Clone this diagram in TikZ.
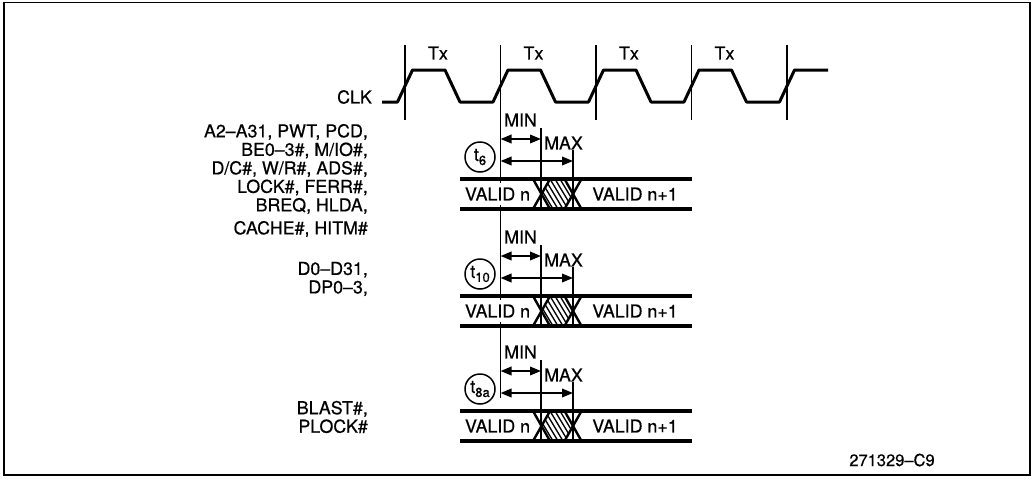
\documentclass[tikz,border=0pt]{standalone}
\usepackage{fontspec}
\setmainfont{TeX Gyre Heros}[FakeBold=0.6]
\usetikzlibrary{arrows.meta}
\begin{document}
\begin{tikzpicture}[x=1pt,y=-1pt,
  lbl/.style={font=\fontsize{17.8}{18.5}\selectfont, inner sep=0pt},
  clkline/.style={line width=3pt, line join=round},
  tick/.style={line width=1.4pt},
  rowline/.style={line width=3.4pt},
  xline/.style={line width=2.4pt},
  hatch/.style={line width=1.3pt},
  dim/.style={line width=2pt, {Triangle[length=11pt,width=8.5pt]}-{Triangle[length=11pt,width=8.5pt]}},
  circ/.style={circle, draw, line width=1.5pt, minimum size=30pt, inner sep=0pt, font=\fontsize{18}{18}\selectfont},
  valbox/.style={lbl, fill=white, inner xsep=1pt, inner ysep=5pt}
]
\useasboundingbox (0,0) rectangle (1032,482);
\draw[line width=1.8pt] (4,2.5) rectangle (1030,475);

% clock
\draw[clkline] (382,102) -- (397.5,102)
  -- (412.5,70) -- (445,70) -- (460,102) -- (493,102)
  -- (508,70) -- (540.5,70) -- (555.5,102) -- (588.5,102)
  -- (603.5,70) -- (636,70) -- (651,102) -- (684,102)
  -- (699,70) -- (731.5,70) -- (746.5,102) -- (779.5,102)
  -- (794.5,70) -- (828,70);
\node[lbl, anchor=east] (clk) at (372,97) {CLK};
\foreach \X/\i in {405/1,596/3,691.5/4,787/5}{
  \coordinate (t\i a) at (\X,45);
  \coordinate (t\i b) at (\X,120);
  \draw[tick] (t\i a) -- (t\i b);
}
\foreach \X/\i in {405/1,500.5/2,596/3,691.5/4}{
  \node[lbl] (tx\i) at (\X+33,53) {Tx};
}
\coordinate (mainTop) at (500.5,45);
\coordinate (mainBot) at (500.5,398);
\draw[tick] (mainTop) -- (mainBot);

% rows
\foreach \T/\s/\n in {179/6/a,296/10/b,411/8a/c}{
  \pgfmathsetmacro\B{\T+30}
  \pgfmathsetmacro\M{\T+15}
  \pgfmathsetmacro\Amin{\T-40}
  \pgfmathsetmacro\Amax{\T-18}
  \node[valbox] (vn\n) at (497.5,\M) {VALID n};
  \node[lbl] (vm\n) at (635,\M) {VALID n+1};
  % row lines
  \coordinate (rtl\n) at (460,\T); \coordinate (rtr\n) at (692,\T);
  \coordinate (rbl\n) at (460,\B); \coordinate (rbr\n) at (692,\B);
  \draw[rowline] (rtl\n) -- (rtr\n);
  \draw[rowline] (rbl\n) -- (rbr\n);
  % hatch
  \begin{scope}
    \clip (541.5,\M) -- (550,\T) -- (564.5,\T) -- (573,\M) -- (564.5,\B) -- (550,\B) -- cycle;
    \foreach \a in {520,525,...,580}{
      \draw[hatch] (\a,\T) -- (\a+18,\B);
    }
  \end{scope}
  % crossings
  \draw[xline] (533,\T) -- (550,\B);
  \draw[xline] (533,\B) -- (550,\T);
  \draw[xline] (564.5,\T) -- (581.5,\B);
  \draw[xline] (564.5,\B) -- (581.5,\T);
  % ticks
  \coordinate (mint\n) at (541,\Amin-11); \coordinate (minb\n) at (541,\B);
  \coordinate (maxt\n) at (573,\Amax-11); \coordinate (maxb\n) at (573,\B);
  \draw[tick] (mint\n) -- (minb\n);
  \draw[tick] (maxt\n) -- (maxb\n);
  % dims
  \coordinate (mina\n) at (500.5,\Amin); \coordinate (minz\n) at (541,\Amin);
  \coordinate (maxa\n) at (500.5,\Amax); \coordinate (maxz\n) at (573,\Amax);
  \draw[dim] (mina\n) -- (minz\n);
  \draw[dim] (maxa\n) -- (maxz\n);
  \node[lbl, anchor=west] (minl\n) at (504,\Amin-19) {MIN};
  \node[lbl, anchor=west] (maxl\n) at (544,\Amax-18) {MAX};
  \node[circ] (c\n) at (480,\Amax-4) {t\raisebox{-4pt}{\fontsize{13}{13}\selectfont\s}};
}

% left labels
\node[lbl, anchor=east, align=right] (g1) at (368,169) {A2--A31, PWT, PCD,\\BE0--3\#, M/IO\#,\\D/C\#, W/R\#, ADS\#,\\LOCK\#, FERR\#,\\BREQ, HLDA,};
\node[lbl, anchor=east] (g2) at (368,229) {CACHE\#, HITM\#};
\node[lbl, anchor=east, align=right] (g3) at (368,279) {D0--D31,\\DP0--3,};
\node[lbl, anchor=east, align=right] (g4) at (368,417) {BLAST\#,\\PLOCK\#};

\node[font=\fontsize{16.5}{16.5}\selectfont, inner sep=0pt] (fig) at (892,460) {271329--C9};
\end{tikzpicture}
\end{document}
